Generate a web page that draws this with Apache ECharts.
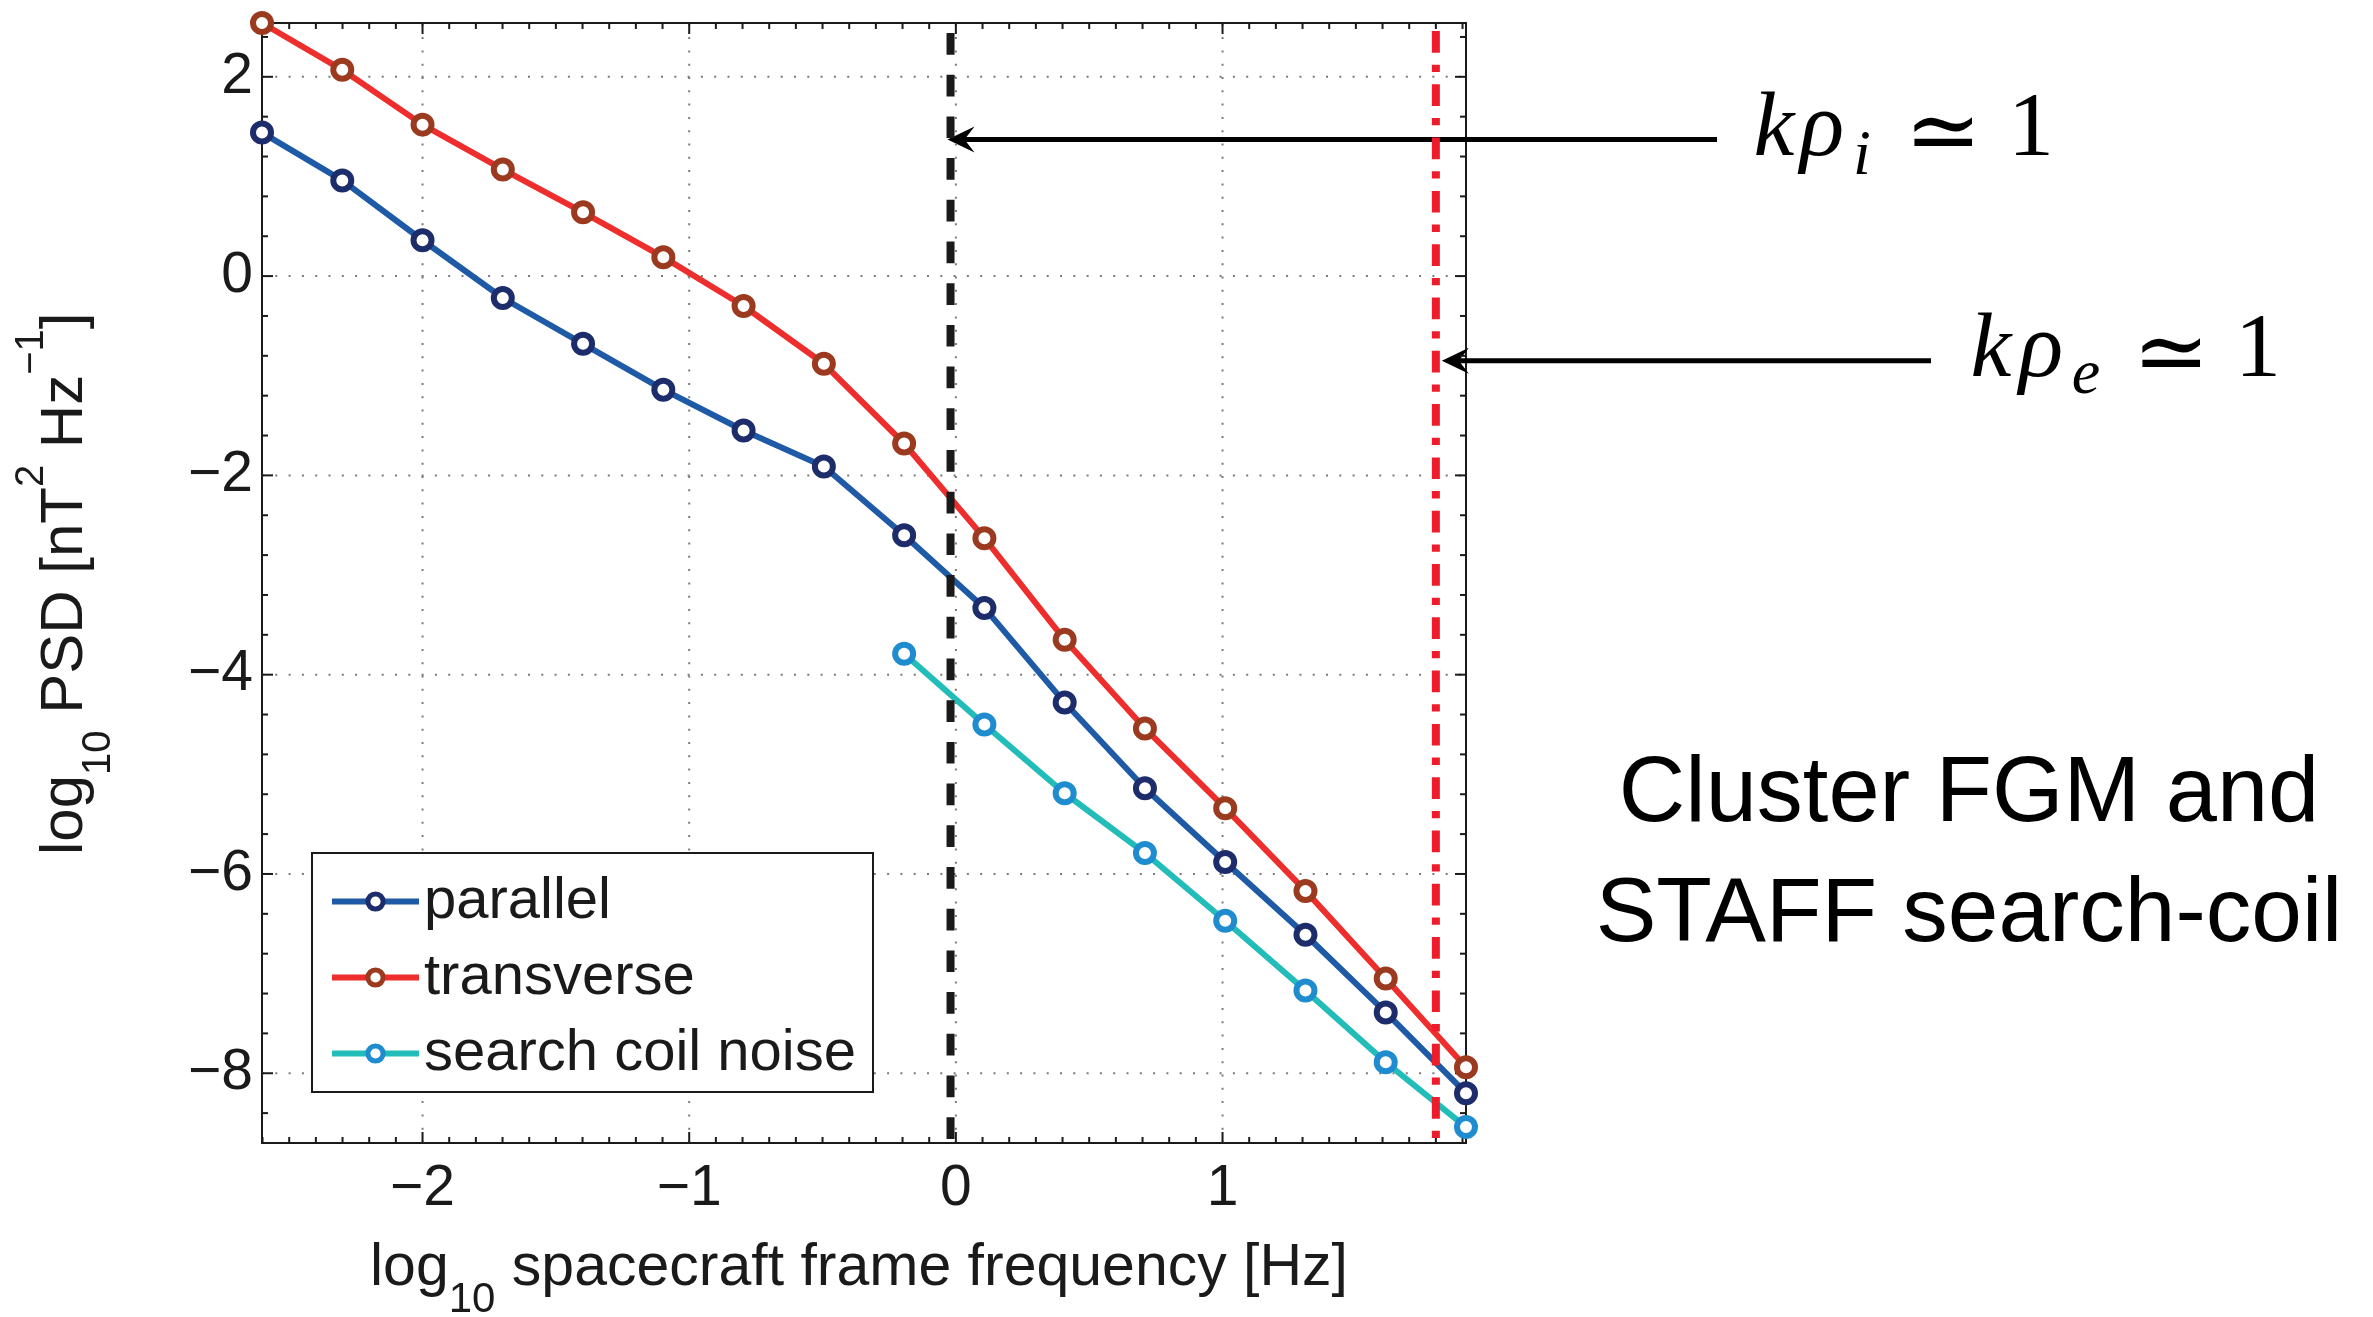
<!DOCTYPE html>
<html>
<head>
<meta charset="utf-8">
<script src="https://cdn.jsdelivr.net/npm/echarts@6.0.0/dist/echarts.min.js"></script>
<style>
html,body{margin:0;padding:0;background:#fff;}
#c{width:2373px;height:1317px;}
</style>
</head>
<body>
<div id="c"></div>
<script>
// ---------------- data ----------------
const logFreq = [-2.602, -2.301, -2.000, -1.699, -1.398, -1.097, -0.796, -0.495,
                 -0.194, 0.107, 0.408, 0.709, 1.010, 1.311, 1.612, 1.913];
const parallel = [1.44, 0.96, 0.36, -0.22, -0.68, -1.14, -1.55, -1.91,
                  -2.60, -3.33, -4.28, -5.14, -5.88, -6.61, -7.39, -8.20];
const transverse = [2.54, 2.07, 1.52, 1.07, 0.64, 0.19, -0.30, -0.88,
                    -1.68, -2.63, -3.65, -4.54, -5.34, -6.17, -7.05, -7.94];
const noiseStart = 8;
const noise = [-3.79, -4.50, -5.19, -5.79, -6.47, -7.17, -7.89, -8.54];
const seriesNames = ['parallel', 'transverse', 'search coil noise'];
const xTickLabels = [-2, -1, 0, 1];
const yTickLabels = [-8, -6, -4, -2, 0, 2];
const X_MIN = -2.602, X_MAX = 1.913, Y_MIN = -8.70, Y_MAX = 2.54;
const kRhoI = -0.02, kRhoE = 1.80;      // vertical marker lines (log10 Hz)
const arrowIY = 1.37, arrowEY = -0.85;  // arrow heights (log10 PSD)

// ---------------- styling ----------------
const SANS = '"Liberation Sans", Arial, sans-serif';
const SERIF = '"Liberation Serif", "DejaVu Serif", serif';
const MATHSYM = '"DejaVu Serif", serif';
const INK = '#1a1a1a';

const chart = echarts.init(document.getElementById('c'), null, {renderer: 'canvas', width: 2373, height: 1317});

function pairs(xs, ys) { return ys.map((y, i) => [xs[i], y]); }
const fmt = v => (v < 0 ? '\u2212' + Math.abs(v) : String(v));

// tick positions (major = labelled values, minor subdivisions)
const xTickData = [];
for (let k = -26; k <= 19; k++) xTickData.push([k / 10, Y_MIN, k % 10 === 0 ? 1 : 0]);
const yTickData = [];
for (let k = -21; k <= 6; k++) yTickData.push([X_MIN, +(k * 0.4).toFixed(1), k % 5 === 0 ? 1 : 0]);

const GRID_STYLE = {stroke: '#7a7a7a', lineWidth: 2, lineDash: [2, 11.3]};
const TICK_STYLE = {stroke: INK, lineWidth: 2};

function renderXTick(params, api) {
  const v = api.value(0), major = api.value(2) === 1;
  const b = api.coord([v, Y_MIN]), t = api.coord([v, Y_MAX]);
  const len = major ? 11 : 6;
  const ch = [];
  if (major) ch.push({type: 'line', shape: {x1: b[0], y1: b[1], x2: t[0], y2: t[1]}, style: GRID_STYLE});
  ch.push({type: 'line', shape: {x1: b[0], y1: b[1], x2: b[0], y2: b[1] - len}, style: TICK_STYLE});
  ch.push({type: 'line', shape: {x1: t[0], y1: t[1], x2: t[0], y2: t[1] + len}, style: TICK_STYLE});
  return {type: 'group', children: ch};
}
function renderYTick(params, api) {
  const v = api.value(1), major = api.value(2) === 1;
  const l = api.coord([X_MIN, v]), r = api.coord([X_MAX, v]);
  const len = major ? 11 : 6;
  const ch = [];
  if (major) ch.push({type: 'line', shape: {x1: l[0], y1: l[1], x2: r[0], y2: r[1]}, style: GRID_STYLE});
  ch.push({type: 'line', shape: {x1: l[0], y1: l[1], x2: l[0] + len, y2: l[1]}, style: TICK_STYLE});
  ch.push({type: 'line', shape: {x1: r[0], y1: r[1], x2: r[0] - len, y2: r[1]}, style: TICK_STYLE});
  return {type: 'group', children: ch};
}

function lineSeries(name, data, lineColor, markColor) {
  return {
    name, type: 'line', data, symbol: 'circle', symbolSize: 18, showSymbol: true,
    clip: false, silent: true, z: 3,
    lineStyle: {color: lineColor, width: 6},
    itemStyle: {color: '#ffffff', borderColor: markColor, borderWidth: 6}
  };
}

const option = {
  animation: false,
  backgroundColor: '#ffffff',
  grid: {left: 262, top: 23, width: 1204, height: 1120, show: true,
         borderColor: INK, borderWidth: 2, backgroundColor: 'transparent',
         containLabel: false, outerBoundsMode: 'none'},
  xAxis: {
    type: 'value', min: X_MIN, max: X_MAX,
    axisLine: {show: false}, axisTick: {show: false}, splitLine: {show: false},
    axisLabel: {customValues: xTickLabels, formatter: fmt, fontFamily: SANS, fontSize: 57, color: INK, margin: 18}
  },
  yAxis: {
    type: 'value', min: Y_MIN, max: Y_MAX,
    axisLine: {show: false}, axisTick: {show: false}, splitLine: {show: false},
    axisLabel: {customValues: yTickLabels, formatter: fmt, fontFamily: SANS, fontSize: 57, color: INK, margin: 9}
  },
  legend: {
    data: seriesNames, orient: 'vertical', left: 312, top: 853,
    padding: [19, 17, 9, 17], itemWidth: 87, itemHeight: 19, itemGap: 17,
    backgroundColor: '#ffffff', borderColor: INK, borderWidth: 2, borderRadius: 0,
    textStyle: {fontFamily: SANS, fontSize: 58, color: INK, lineHeight: 59},
    itemStyle: {borderWidth: 5}, lineStyle: {width: 6},
    selectedMode: false, z: 10
  },
  series: [
    {type: 'custom', name: 'xticks', coordinateSystem: 'cartesian2d', data: xTickData,
     encode: {x: 0, y: 1}, renderItem: renderXTick, silent: true, z: 1},
    {type: 'custom', name: 'yticks', coordinateSystem: 'cartesian2d', data: yTickData,
     encode: {x: 0, y: 1}, renderItem: renderYTick, silent: true, z: 1},
    lineSeries('parallel', pairs(logFreq, parallel), '#1f5aa6', '#1d2c6a'),
    lineSeries('transverse', pairs(logFreq, transverse), '#ee2d2d', '#9b3a1f'),
    lineSeries('search coil noise', pairs(logFreq.slice(noiseStart), noise), '#22bdb9', '#1e8ccf'),
    {name: 'kRhoI', type: 'line', data: [[kRhoI, Y_MAX], [kRhoI, Y_MIN]], symbol: 'none', silent: true, z: 4, clip: false,
     lineStyle: {color: '#1a1a1a', width: 8, type: [21.7, 20], dashOffset: -10}},
    {name: 'kRhoE', type: 'line', data: [[kRhoE, Y_MAX], [kRhoE, Y_MIN]], symbol: 'none', silent: true, z: 4, clip: false,
     lineStyle: {color: '#ee1c2a', width: 8, type: [21.7, 12, 7.3, 12.3], dashOffset: -8}}
  ]
};
chart.setOption(option);

// ---------------- annotations ----------------
const mctx = document.createElement('canvas').getContext('2d');
function measure(text, font) {
  mctx.font = font; mctx.textBaseline = 'alphabetic';
  const m = mctx.measureText(text);
  const asc = m.fontBoundingBoxAscent, desc = m.fontBoundingBoxDescent;
  return {w: m.width, mid: (asc != null && desc != null) ? (asc - desc) / 2 : null};
}
function fontStr(p) { return (p.italic ? 'italic ' : '') + p.size + 'px ' + (p.family || SANS); }
function midOffset(p) { const m = measure('x', fontStr(p)); return m.mid != null ? m.mid : p.size * 0.34; }
// sequential run of text pieces on a common baseline
function runText(parts, x0, base) {
  let x = x0; const out = [];
  parts.forEach(p => {
    const font = fontStr(p);
    const w = measure(p.t, font).w;
    out.push({type: 'text', x: x, y: base + (p.dy || 0) - midOffset(p), silent: true,
              style: {text: p.t, font: font, fill: INK, textAlign: 'left', textVerticalAlign: 'middle'}});
    x += w;
  });
  return out;
}
// individual pieces placed by centre
function placed(p, cx, base) {
  return {type: 'text', x: cx, y: base + (p.dy || 0) - midOffset(p), silent: true,
          style: {text: p.t, font: fontStr(p), fill: '#000', textAlign: 'center', textVerticalAlign: 'middle'}};
}
function arrow(tipX, y, tailX) {
  return [
    {type: 'line', silent: true, shape: {x1: tipX + 16, y1: y, x2: tailX, y2: y}, style: {stroke: '#000', lineWidth: 5}},
    {type: 'polygon', silent: true, shape: {points: [[tipX, y], [tipX + 27, y - 13], [tipX + 17, y], [tipX + 27, y + 13]]}, style: {fill: '#000'}}
  ];
}

const pI = chart.convertToPixel({gridIndex: 0}, [kRhoI, arrowIY]);
const pE = chart.convertToPixel({gridIndex: 0}, [kRhoE, arrowEY]);

const els = [];
els.push(...arrow(pI[0] - 3, pI[1], 1717));
els.push(...arrow(pE[0] + 6, pE[1], 1931));

// k rho_i ~= 1
const M = 92, S = 64;
els.push(placed({t: 'k', size: M, italic: true, family: SERIF}, 1774, 162));
els.push(placed({t: '\u03C1', size: M, italic: true, family: SERIF}, 1822, 162));
els.push(placed({t: 'i', size: S, italic: true, family: SERIF, dy: 17}, 1862, 162));
els.push(placed({t: '\u2243', size: 92, family: MATHSYM, dy: 8}, 1943, 162));
els.push(placed({t: '1', size: M, family: SERIF}, 2031, 162));
// k rho_e ~= 1
els.push(placed({t: 'k', size: M, italic: true, family: SERIF}, 1991, 383));
els.push(placed({t: '\u03C1', size: M, italic: true, family: SERIF}, 2041, 383));
els.push(placed({t: 'e', size: S, italic: true, family: SERIF, dy: 15}, 2086, 383));
els.push(placed({t: '\u2243', size: 92, family: MATHSYM, dy: 8}, 2171, 383));
els.push(placed({t: '1', size: M, family: SERIF}, 2258, 383));

// side caption
els.push(placed({t: 'Cluster FGM and', size: 92}, 1969, 828));
els.push(placed({t: 'STAFF search-coil', size: 91}, 1969, 947));

// x axis title
els.push(...runText([
  {t: 'log', size: 59},
  {t: '10', size: 42, dy: 26},
  {t: ' spacecraft frame frequency [Hz]', size: 59}
], 370, 1289));

// y axis title (rotated, reads bottom to top)
els.push({type: 'group', x: 86, y: 855, rotation: Math.PI / 2, silent: true,
  children: runText([
    {t: 'log', size: 60},
    {t: '10', size: 40, dy: 27},
    {t: ' PSD [nT', size: 60},
    {t: '2', size: 40, dy: -40},
    {t: ' Hz', size: 60},
    {t: '\u22121', size: 40, dy: -40},
    {t: ']', size: 60}
  ], 0, 0)});

chart.setOption({graphic: {elements: els}});
</script>
</body>
</html>
